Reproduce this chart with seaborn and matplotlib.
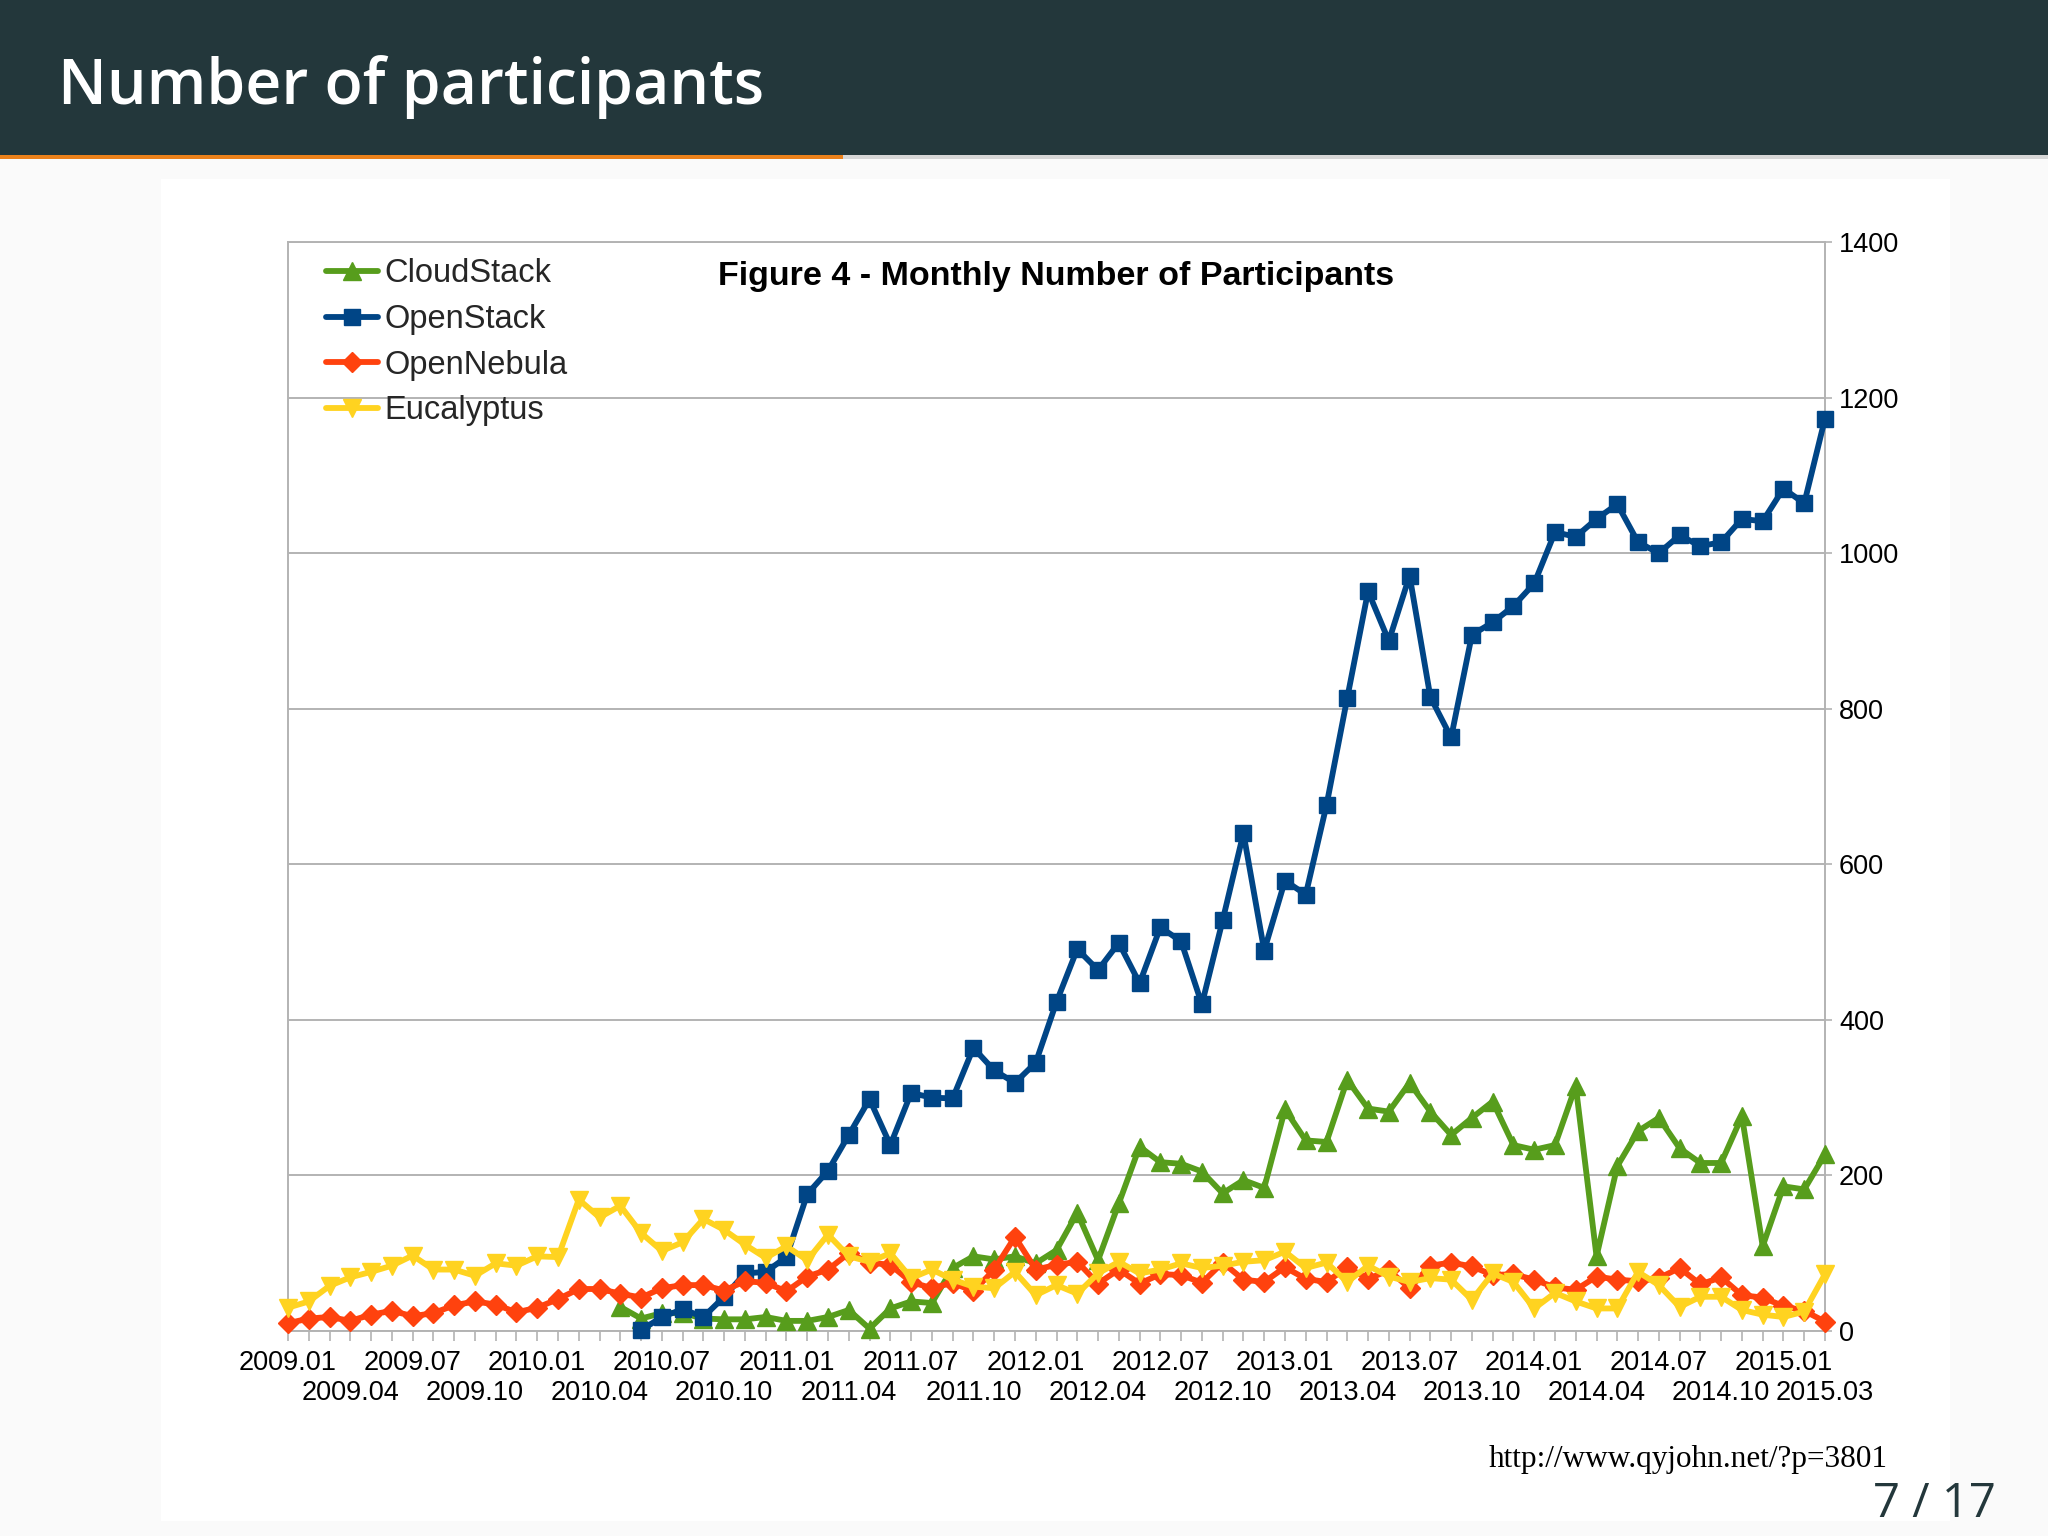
import numpy as np
import pandas as pd
import matplotlib
matplotlib.use("Agg")
import matplotlib.pyplot as plt
import seaborn as sns
from matplotlib.lines import Line2D
from matplotlib.patches import Rectangle

# ---------------- data ----------------
years = [2009, 2010, 2011, 2012, 2013, 2014, 2015]
months = [f"{y}.{m:02d}" for y in years for m in range(1, 13)][:75]

cloudstack = ([None] * 16 +
              [31, 16, 23, 23, 16, 15, 15, 18] +
              [13, 13, 18, 27, 3, 29, 38, 36, 81, 96, 92, 96] +
              [87, 104, 152, 91, 164, 237, 217, 215, 205, 177, 194, 184] +
              [285, 245, 243, 323, 286, 282, 319, 282, 252, 274, 295, 239] +
              [233, 239, 315, 96, 212, 257, 274, 235, 216, 216, 276, 109] +
              [186, 182, 227])

openstack = ([None] * 17 +
             [1, 18, 28, 18, 44, 74, 76] +
             [95, 176, 206, 252, 298, 239, 306, 300, 299, 364, 335, 319] +
             [345, 423, 491, 464, 499, 447, 519, 501, 420, 528, 640, 489] +
             [579, 561, 676, 814, 951, 887, 971, 815, 763, 895, 911, 932] +
             [961, 1027, 1021, 1044, 1063, 1014, 1000, 1023, 1009, 1014, 1044, 1041] +
             [1083, 1064, 1173])

opennebula = ([10, 16, 18, 13, 21, 26, 19, 23, 33, 38, 34, 24] +
              [30, 41, 54, 54, 48, 43, 55, 59, 59, 52, 64, 62] +
              [51, 70, 79, 100, 88, 85, 63, 55, 62, 51, 79, 121] +
              [79, 85, 89, 61, 79, 61, 73, 72, 62, 88, 66, 63] +
              [82, 67, 63, 82, 67, 78, 55, 84, 88, 83, 72, 73] +
              [66, 56, 53, 70, 66, 64, 68, 81, 60, 69, 46, 43] +
              [32, 26, 12])

eucalyptus = ([30, 38, 58, 69, 76, 84, 97, 79, 79, 71, 87, 84] +
              [96, 95, 169, 146, 161, 126, 103, 114, 144, 130, 111, 94] +
              [109, 91, 124, 96, 89, 100, 68, 79, 66, 57, 55, 76] +
              [46, 59, 48, 74, 89, 74, 79, 87, 81, 84, 89, 91] +
              [102, 81, 88, 63, 84, 70, 63, 68, 66, 40, 74, 63] +
              [29, 49, 38, 29, 29, 76, 59, 31, 44, 44, 27, 21] +
              [18, 25, 73])

series_names = ["CloudStack", "OpenStack", "OpenNebula", "Eucalyptus"]
series_values = [cloudstack, openstack, opennebula, eucalyptus]
y_ticks = [0, 200, 400, 600, 800, 1000, 1200, 1400]

# ---------------- styles ----------------
colors = {"CloudStack": "#579d1c", "OpenStack": "#004586",
          "OpenNebula": "#ff420e", "Eucalyptus": "#ffd320"}
markers = {"CloudStack": "^", "OpenStack": "s", "OpenNebula": "D", "Eucalyptus": "v"}
msizes = {"CloudStack": 13.5, "OpenStack": 12, "OpenNebula": 10, "Eucalyptus": 13.5}
LW = 4.2

W, H = 2048, 1536
sns.set_theme(style="white")
plt.rcParams["font.family"] = ["Liberation Sans", "DejaVu Sans"]

fig = plt.figure(figsize=(W / 100, H / 100), dpi=100)
fig.patch.set_facecolor("#fafafa")


def fx(x):
    return x / W


def fy(y):
    return 1 - y / H


# slide header
fig.add_artist(Rectangle((0, fy(155)), 1, 155 / H, transform=fig.transFigure,
                         facecolor="#23373b", edgecolor="none", zorder=0))
fig.add_artist(Rectangle((0, fy(159)), 1, 4 / H, transform=fig.transFigure,
                         facecolor="#d6d6d6", edgecolor="none", zorder=0))
fig.add_artist(Rectangle((0, fy(159)), fx(843), 4 / H, transform=fig.transFigure,
                         facecolor="#eb811b", edgecolor="none", zorder=1))
# chart image background
fig.add_artist(Rectangle((fx(161), fy(1521)), fx(1950 - 161), (1521 - 179) / H,
                         transform=fig.transFigure, facecolor="white",
                         edgecolor="none", zorder=0))

fig.text(fx(58), fy(80), "Number of participants", color="white",
         fontsize=45, fontweight="semibold", family=["Open Sans", "DejaVu Sans"],
         va="center_baseline", ha="left")

# ---------------- chart ----------------
ax = fig.add_axes([fx(288), fy(1331), fx(1825 - 288), (1331 - 242) / H])
ax.set_facecolor("white")

df = pd.DataFrame({"month": np.arange(len(months))})
for name, vals in zip(series_names, series_values):
    df[name] = pd.to_numeric(pd.Series(vals), errors="coerce")

for i, name in enumerate(series_names):
    sub = df[["month", name]].dropna()
    sns.lineplot(data=sub, x="month", y=name, ax=ax, color=colors[name],
                 marker=markers[name], markersize=msizes[name],
                 markeredgecolor=colors[name], markeredgewidth=1,
                 linewidth=LW, clip_on=False, zorder=3 + i, legend=False,
                 errorbar=None)

ax.set_xlim(0, len(months) - 1)
ax.set_ylim(0, 1400)
ax.set_xlabel("")
ax.set_ylabel("")

# x ticks: every month; labels every 3 months in two staggered rows
top_idx = [i for i in range(len(months)) if i % 6 == 0]
bot_idx = [i for i in range(len(months)) if i % 6 == 3 or i == len(months) - 1]
ax.set_xticks(top_idx)
ax.set_xticklabels([months[i] for i in top_idx], fontsize=19.5, color="black")
minor_idx = [i for i in range(len(months)) if i not in top_idx]
ax.set_xticks(minor_idx, minor=True)
ax.set_xticklabels([months[i] if i in bot_idx else "" for i in minor_idx],
                   minor=True, fontsize=19.5, color="black")
ax.tick_params(axis="x", which="major", direction="out", length=7, width=1.2,
               color="#b3b3b3", pad=7, bottom=True)
ax.tick_params(axis="x", which="minor", direction="out", length=7, width=1.2,
               color="#b3b3b3", pad=28, bottom=True)

ax.yaxis.tick_right()
ax.set_yticks(y_ticks)
ax.set_yticklabels([str(v) for v in y_ticks], fontsize=19.5, color="black")
ax.tick_params(axis="y", direction="out", length=5, width=1.2, color="#b3b3b3",
               pad=5, right=True, left=False)

ax.grid(axis="y", color="#b3b3b3", linewidth=1.4)
ax.grid(axis="x", visible=False, which="both")
for sp in ax.spines.values():
    sp.set_color("#b3b3b3")
    sp.set_linewidth(1.4)

# chart title
fig.text(fx(1056), fy(277), "Figure 4 - Monthly Number of Participants",
         fontsize=24.5, fontweight="bold", ha="center", va="center", color="black")

# legend
handles = [Line2D([0], [0], color=colors[n], marker=markers[n],
                  markersize=msizes[n], markeredgecolor=colors[n],
                  linewidth=LW) for n in series_names]
ax.legend(handles, series_names, loc="upper left", bbox_to_anchor=(0.0247, 0.985),
          frameon=False, fontsize=23.5, handlelength=1.6, handletextpad=0.2,
          labelspacing=0.45, borderpad=0, borderaxespad=0)

# source and page number
fig.text(fx(1489), fy(1459), "http://www.qyjohn.net/?p=3801", fontsize=22.5,
         family=["Liberation Serif", "DejaVu Serif"], ha="left", va="center",
         color="black")
fig.text(fx(1996), fy(1504), "7 / 17", fontsize=34, color="#23373b",
         family=["Open Sans", "DejaVu Sans"], ha="right", va="center")

fig.savefig("out.png", dpi=100, facecolor=fig.get_facecolor())
